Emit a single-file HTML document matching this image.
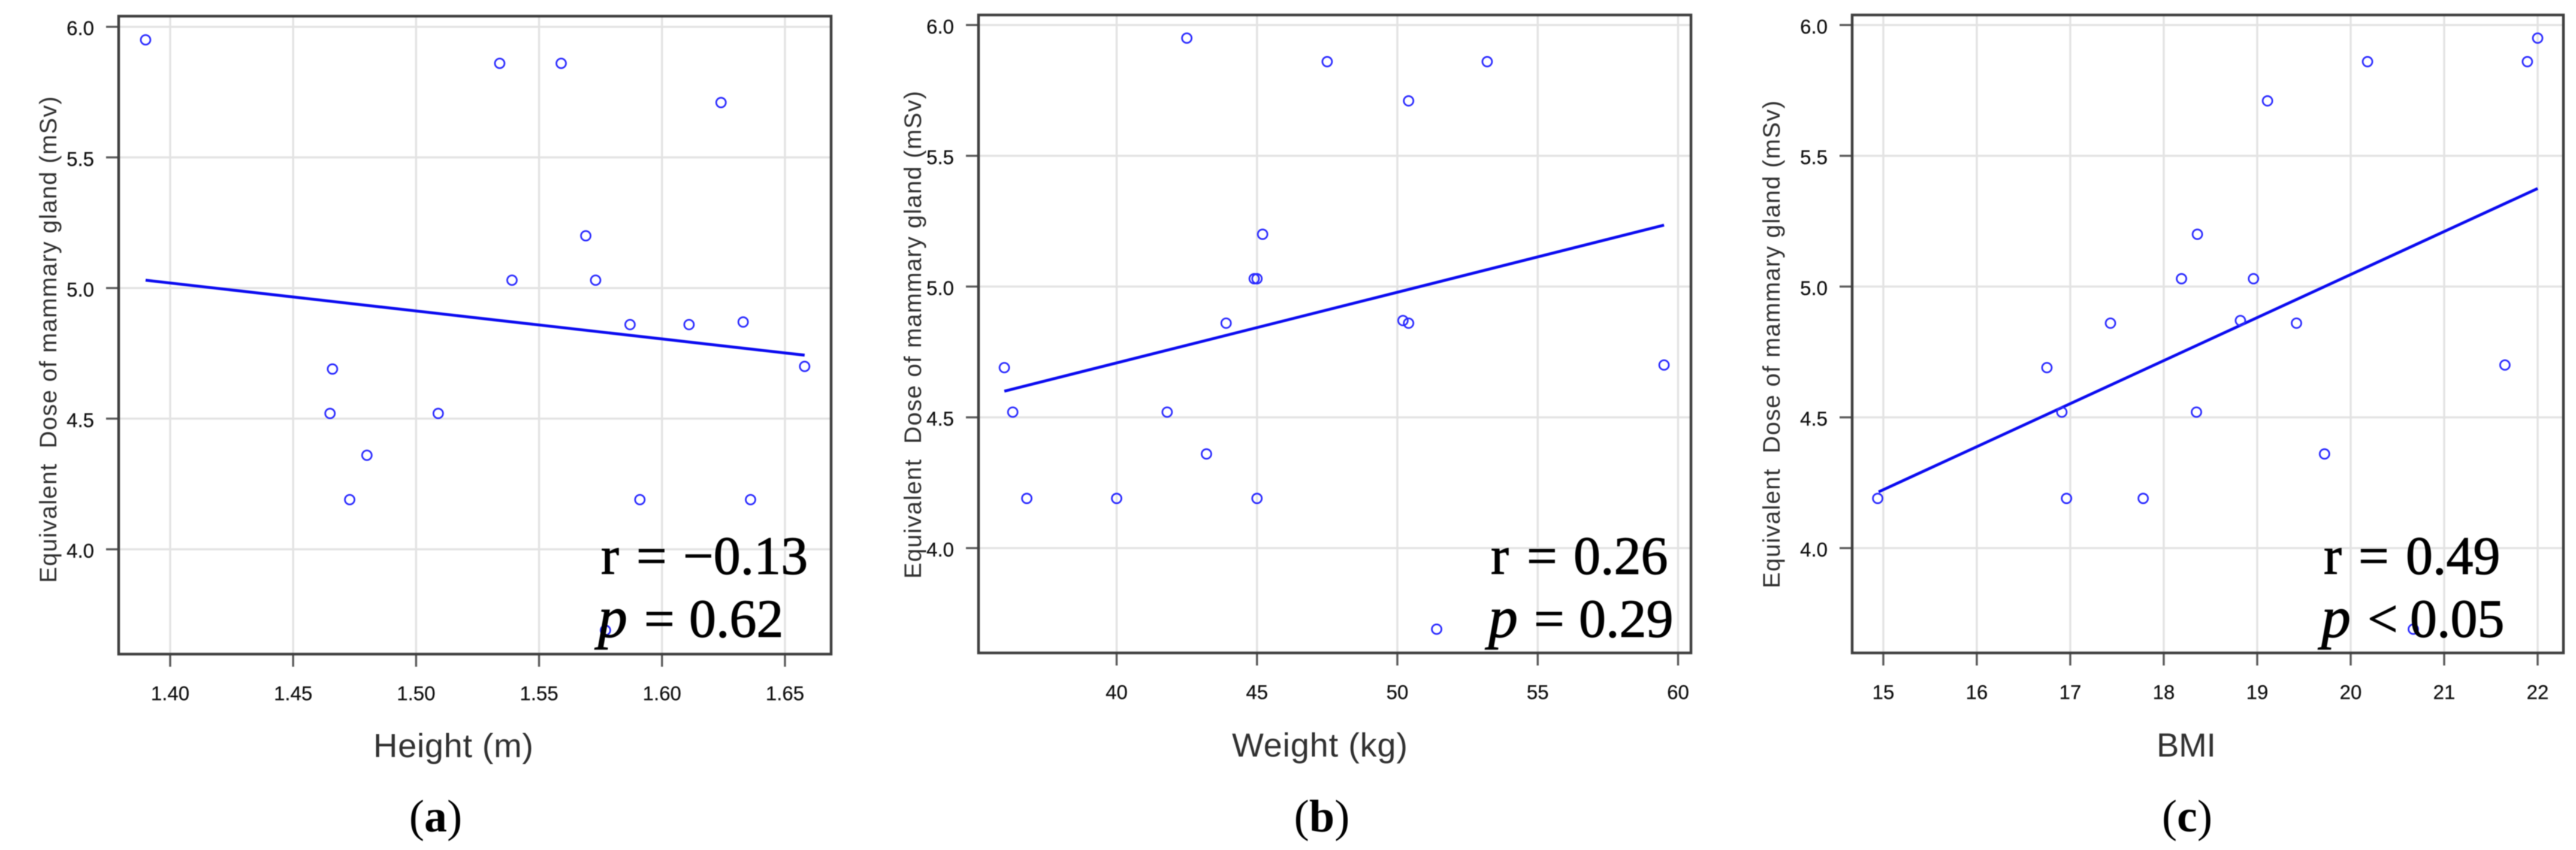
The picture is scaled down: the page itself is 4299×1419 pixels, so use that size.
<!DOCTYPE html>
<html lang="en">
<head>
<meta charset="utf-8">
<title>Equivalent dose of mammary gland vs height, weight and BMI</title>
<style>
html,body{margin:0;padding:0;background:#fff;}
body{width:4299px;height:1419px;overflow:hidden;}
svg{display:block;filter:blur(0.7px);}
.axis-title{font-family:"Liberation Sans",sans-serif;fill:#303030;font-weight:400;}
.tick-label{font-family:"Liberation Sans",sans-serif;font-size:33px;fill:#111;stroke:#111;stroke-width:0.3px;}
.stat{font-family:"Liberation Serif",serif;font-size:90px;fill:#000;stroke:#000;stroke-width:1.2px;}
.stat .sym{font-style:italic;font-size:98px;}
.caption{font-family:"Liberation Serif",serif;font-size:76px;fill:#000;text-anchor:middle;}
</style>
</head>
<body>
<svg id="figure" xmlns="http://www.w3.org/2000/svg" width="4299" height="1419" viewBox="0 0 4299 1419">
  <rect width="4299" height="1419" fill="#fff"/>

  <g id="panel-a">
    <g id="marks-a"></g>
    <text class="axis-title" font-size="40" transform="translate(94,973) rotate(-90)" textLength="812" lengthAdjust="spacing" xml:space="preserve">Equivalent  Dose of mammary gland (mSv)</text>
    <text class="axis-title" font-size="56" x="623" y="1264" textLength="267" lengthAdjust="spacing">Height (m)</text>
    <text class="stat" y="958"><tspan x="1003">r</tspan><tspan x="1062">=</tspan><tspan x="1140">−0.13</tspan></text>
    <text class="stat" y="1063"><tspan class="sym" x="998">p</tspan><tspan x="1075">=</tspan><tspan x="1150">0.62</tspan></text>
    <text class="caption" x="727" y="1388">(<tspan font-weight="bold">a</tspan>)</text>
  </g>

  <g id="panel-b">
    <g id="marks-b"></g>
    <text class="axis-title" font-size="40" transform="translate(1537,966) rotate(-90)" textLength="814" lengthAdjust="spacing" xml:space="preserve">Equivalent  Dose of mammary gland (mSv)</text>
    <text class="axis-title" font-size="56" x="2056" y="1263" textLength="293" lengthAdjust="spacing">Weight (kg)</text>
    <text class="stat" y="958"><tspan x="2488">r</tspan><tspan x="2548">=</tspan><tspan x="2626">0.26</tspan></text>
    <text class="stat" y="1063"><tspan class="sym" x="2484">p</tspan><tspan x="2560">=</tspan><tspan x="2635">0.29</tspan></text>
    <text class="caption" x="2206" y="1388">(<tspan font-weight="bold">b</tspan>)</text>
  </g>

  <g id="panel-c">
    <g id="marks-c"></g>
    <text class="axis-title" font-size="40" transform="translate(2970,982) rotate(-90)" textLength="814" lengthAdjust="spacing" xml:space="preserve">Equivalent  Dose of mammary gland (mSv)</text>
    <text class="axis-title" font-size="56" x="3599" y="1263" textLength="99" lengthAdjust="spacing">BMI</text>
    <text class="stat" y="958"><tspan x="3878">r</tspan><tspan x="3936">=</tspan><tspan x="4015">0.49</tspan></text>
    <text class="stat" y="1063"><tspan class="sym" x="3874">p</tspan><tspan x="3951">&lt;</tspan><tspan x="4022">0.05</tspan></text>
    <text class="caption" x="3650" y="1388">(<tspan font-weight="bold">c</tspan>)</text>
  </g>
</svg>

<script>
// Chart data
const doseTicks = [6.0, 5.5, 5.0, 4.5, 4.0];
const doseTickLabels = ["6.0", "5.5", "5.0", "4.5", "4.0"];

const heightTicks = [1.40, 1.45, 1.50, 1.55, 1.60, 1.65];
const heightTickLabels = ["1.40", "1.45", "1.50", "1.55", "1.60", "1.65"];
const heightValues = [1.390, 1.534, 1.559, 1.624, 1.569, 1.539, 1.573, 1.587, 1.611, 1.633, 1.658, 1.466, 1.465, 1.509, 1.480, 1.473, 1.591, 1.636, 1.577];
const heightDose = [5.95, 5.86, 5.86, 5.71, 5.20, 5.03, 5.03, 4.86, 4.86, 4.87, 4.70, 4.69, 4.52, 4.52, 4.36, 4.19, 4.19, 4.19, 3.69];
const heightFitX = [1.390, 1.658];
const heightFitY = [5.03, 4.743];

const weightTicks = [40, 45, 50, 55, 60];
const weightTickLabels = ["40", "45", "50", "55", "60"];
const weightValues = [42.5, 47.5, 53.2, 50.4, 45.2, 44.9, 45.0, 43.9, 50.2, 50.4, 59.5, 36.0, 36.3, 41.8, 43.2, 36.8, 40.0, 45.0, 51.4];
const weightDose = [5.95, 5.86, 5.86, 5.71, 5.20, 5.03, 5.03, 4.86, 4.87, 4.86, 4.70, 4.69, 4.52, 4.52, 4.36, 4.19, 4.19, 4.19, 3.69];
const weightFitX = [36.0, 59.5];
const weightFitY = [4.60, 5.235];

const bmiTicks = [15, 16, 17, 18, 19, 20, 21, 22];
const bmiTickLabels = ["15", "16", "17", "18", "19", "20", "21", "22"];
const bmiValues = [14.94, 16.75, 16.91, 16.96, 17.43, 17.78, 18.19, 18.36, 18.35, 18.82, 18.96, 19.11, 19.42, 19.72, 20.18, 20.67, 21.65, 21.89, 22.0];
const bmiDose = [4.19, 4.69, 4.52, 4.19, 4.86, 4.19, 5.03, 5.20, 4.52, 4.87, 5.03, 5.71, 4.86, 4.36, 5.86, 3.69, 4.70, 5.86, 5.95];
const bmiFitX = [14.95, 22.0];
const bmiFitY = [4.215, 5.375];

const SVG_NS = "http://www.w3.org/2000/svg";

function mk(parent, tag, attrs) {
  const el = document.createElementNS(SVG_NS, tag);
  for (const k in attrs) el.setAttribute(k, attrs[k]);
  parent.appendChild(el);
  return el;
}

function drawPanel(id, frame, xMap, yMap, xTicks, xLabels, yTicks, yLabels, xs, ys, fitX, fitY) {
  const g = document.getElementById(id);
  const X = v => xMap.px0 + (v - xMap.v0) * (xMap.px1 - xMap.px0) / (xMap.v1 - xMap.v0);
  const Y = v => yMap.px0 + (v - yMap.v0) * (yMap.px1 - yMap.px0) / (yMap.v1 - yMap.v0);

  xTicks.forEach((t, i) => {
    const grid = mk(g, "line", {x1: X(t), x2: X(t), y1: frame.top, y2: frame.bottom, stroke: "#e3e3e3", "stroke-width": 3.5});
    
    
    const tick = mk(g, "line", {x1: X(t), x2: X(t), y1: frame.bottom, y2: frame.bottom + 21, stroke: "#5c5c5c", "stroke-width": 3.5});
    
    
    const lab = mk(g, "text", {x: X(t), y: frame.bottom + 77, "text-anchor": "middle", "class": "tick-label"});
    lab.textContent = xLabels[i];
    
    
  });

  yTicks.forEach((t, i) => {
    const grid = mk(g, "line", {x1: frame.left, x2: frame.right, y1: Y(t), y2: Y(t), stroke: "#e3e3e3", "stroke-width": 3.5});
    
    
    const tick = mk(g, "line", {x1: frame.left - 21, x2: frame.left, y1: Y(t), y2: Y(t), stroke: "#5c5c5c", "stroke-width": 3.5});
    
    
    const lab = mk(g, "text", {x: frame.left - 41, y: Y(t) + 14, "text-anchor": "end", "class": "tick-label"});
    lab.textContent = yLabels[i];
    
    
  });

  const border = mk(g, "rect", {x: frame.left, y: frame.top, width: frame.right - frame.left, height: frame.bottom - frame.top, fill: "none", stroke: "#3f3f3f", "stroke-width": 4.5});
  
  

  const fit = mk(g, "line", {x1: X(fitX[0]), y1: Y(fitY[0]), x2: X(fitX[1]), y2: Y(fitY[1]), stroke: "#0b0bf0", "stroke-width": 4.8});
  
  

  xs.forEach((v, i) => {
    const pt = mk(g, "circle", {cx: X(v), cy: Y(ys[i]), r: 8, fill: "none", stroke: "#2a2aff", "stroke-width": 2.8});
    
    
  });
}

drawPanel("marks-a",
  {left: 198, right: 1387, top: 27, bottom: 1092},
  {v0: 1.40, v1: 1.65, px0: 284, px1: 1310},
  {v0: 6, v1: 4, px0: 44.7, px1: 917},
  heightTicks, heightTickLabels, doseTicks, doseTickLabels,
  heightValues, heightDose, heightFitX, heightFitY);

drawPanel("marks-b",
  {left: 1633, right: 2822, top: 25, bottom: 1090},
  {v0: 40, v1: 60, px0: 1863.5, px1: 2800.5},
  {v0: 6, v1: 4, px0: 41.8, px1: 915},
  weightTicks, weightTickLabels, doseTicks, doseTickLabels,
  weightValues, weightDose, weightFitX, weightFitY);

drawPanel("marks-c",
  {left: 3091, right: 4278, top: 25, bottom: 1090},
  {v0: 15, v1: 22, px0: 3143, px1: 4235},
  {v0: 6, v1: 4, px0: 41.8, px1: 915},
  bmiTicks, bmiTickLabels, doseTicks, doseTickLabels,
  bmiValues, bmiDose, bmiFitX, bmiFitY);
</script>
</body>
</html>
